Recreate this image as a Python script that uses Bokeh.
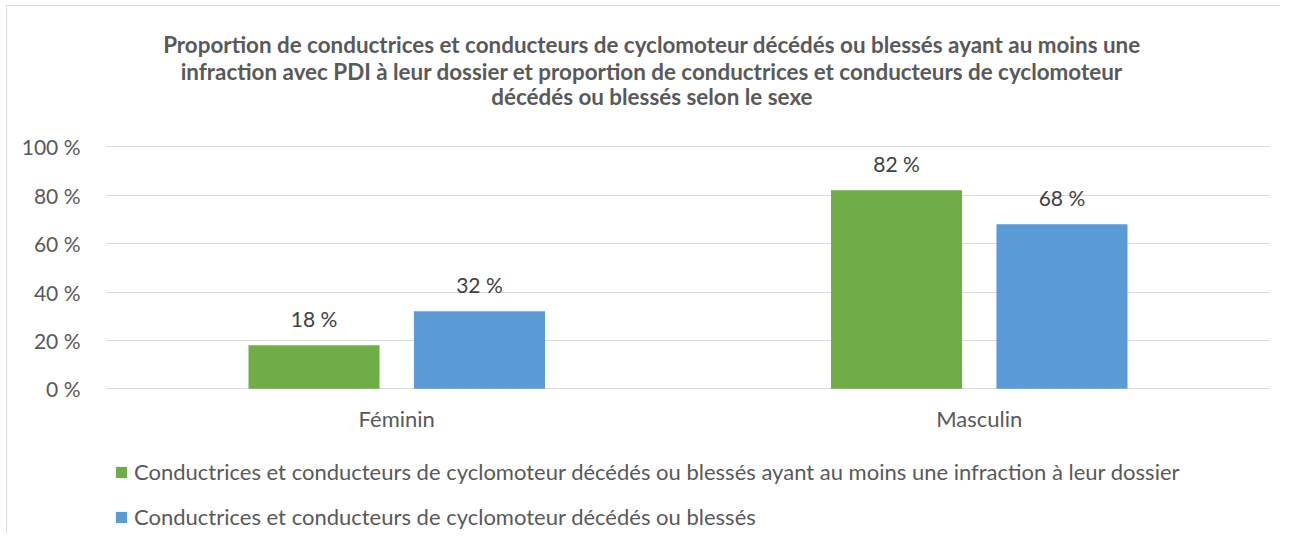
from bokeh.plotting import figure
from bokeh.models import ColumnDataSource, FactorRange, Range1d, Legend, LegendItem, FixedTicker, Label
from bokeh.transform import dodge
from bokeh.core.properties import value
from bokeh.embed import file_html
from bokeh.resources import INLINE

# ---------------- data ----------------
title_lines = [
    "Proportion de conductrices et conducteurs de cyclomoteur décédés ou blessés ayant au moins une",
    "infraction avec PDI à leur dossier et proportion de conductrices et conducteurs de cyclomoteur",
    "décédés ou blessés selon le sexe",
]
sexes = ["Féminin", "Masculin"]
series_names = [
    "Conductrices et conducteurs de cyclomoteur décédés ou blessés ayant au moins une infraction à leur dossier",
    "Conductrices et conducteurs de cyclomoteur décédés ou blessés",
]
infraction_pct = [18, 82]
total_pct = [32, 68]
y_ticks = [0, 20, 40, 60, 80, 100]
y_tick_labels = ["0 %", "20 %", "40 %", "60 %", "80 %", "100 %"]

# ---------------- style ----------------
GREEN = "#70AD47"
BLUE = "#5B9BD5"
GRID = "#D9D9D9"
TEXT = "#595959"
LABEL = "#404040"
FONT = "Lato"

src = ColumnDataSource(dict(
    sexe=sexes,
    infraction=infraction_pct,
    total=total_pct,
    inf_lbl=[f"{v} %" for v in infraction_pct],
    tot_lbl=[f"{v} %" for v in total_pct],
))

# frame spans the whole canvas height; the 0-100 % band sits at the reference position
PX = 2.42  # pixels per percent
H = 528
p = figure(
    x_range=FactorRange(*sexes),
    y_range=Range1d(-(H - 382.3) / PX, 100 + 140.3 / PX),
    width=1274, height=H,
    min_border_left=98, min_border_right=11,
    min_border_top=0, min_border_bottom=0,
    output_backend="svg", toolbar_location=None,
)
p.styles = {"margin-top": "5px", "margin-left": "6px",
            "border-top": "1px solid #D9D9D9", "border-left": "1px solid #D9D9D9"}
p.outline_line_color = None
p.background_fill_color = "white"
p.border_fill_color = "white"

OFF = 0.142
BW = 0.225
r1 = p.vbar(x=dodge("sexe", -OFF, range=p.x_range), top="infraction", width=BW,
            source=src, fill_color=GREEN, line_color=None)
r2 = p.vbar(x=dodge("sexe", OFF, range=p.x_range), top="total", width=BW,
            source=src, fill_color=BLUE, line_color=None)

for col, lbl, off in (("infraction", "inf_lbl", -OFF), ("total", "tot_lbl", OFF)):
    p.text(x=dodge("sexe", off, range=p.x_range), y=col, text=lbl, source=src,
           text_align="center", text_baseline="middle", y_offset=-27,
           text_font=value(FONT), text_font_size="21px", text_color=LABEL)

# axes
p.xgrid.grid_line_color = None
p.ygrid.grid_line_color = GRID
p.ygrid.grid_line_width = 1
p.yaxis.ticker = FixedTicker(ticks=y_ticks)
p.yaxis.major_label_overrides = {t: l for t, l in zip(y_ticks, y_tick_labels)}
p.xaxis.fixed_location = 0
for ax in (p.xaxis[0], p.yaxis[0]):
    ax.axis_line_color = None
    ax.major_tick_line_color = None
    ax.minor_tick_line_color = None
    ax.major_tick_out = 0
    ax.major_tick_in = 0
    ax.major_label_text_font = FONT
    ax.major_label_text_color = TEXT
p.yaxis.major_label_text_font_size = "21px"
p.xaxis.major_label_text_font_size = "22px"
p.yaxis.major_label_standoff = 25
p.xaxis.major_label_standoff = 16

# title: three centred lines
for txt, yy in zip(title_lines, (142.1, 131.3, 120.6)):
    p.add_layout(Label(x=0.938, y=yy, text=txt, text_align="center", text_baseline="alphabetic",
                       text_font=FONT, text_font_style="bold", text_font_size="22.4px", text_color=TEXT))

legend = Legend(
    items=[LegendItem(label=series_names[0], renderers=[r1]),
           LegendItem(label=series_names[1], renderers=[r2])],
    location=(9, 4), orientation="vertical",
    glyph_width=14, glyph_height=14, label_height=20, spacing=18,
    padding=0, margin=0, label_standoff=6,
    border_line_color=None, background_fill_alpha=0,
    label_text_font=FONT, label_text_font_size="22px", label_text_color=TEXT,
)
p.add_layout(legend)

open("out.html", "w").write(file_html(p, INLINE))
